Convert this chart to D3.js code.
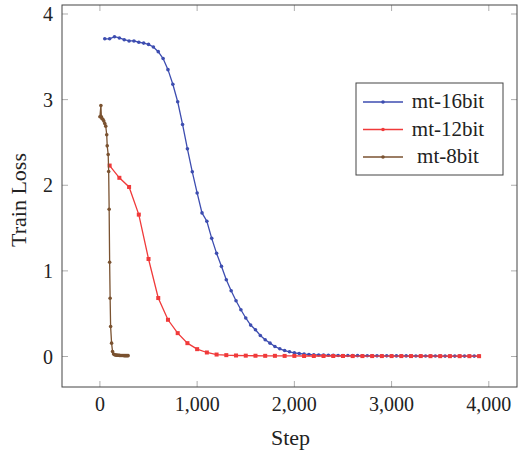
<!DOCTYPE html>
<html>
<head>
<meta charset="utf-8">
<script src="https://cdn.jsdelivr.net/npm/d3@7"></script>
<style>
  body { margin: 0; background: #fff; }
  text { font-family: "Liberation Serif", "Times New Roman", serif; fill: #222; }
</style>
</head>
<body>
<div id="chart"></div>
<script>
// data
const steps16 = [50, 100, 150, 200, 250, 300, 350, 400, 450, 500, 550, 600, 650, 700, 750, 800, 850, 900, 950, 1000,
  1050, 1100, 1150, 1200, 1250, 1300, 1350, 1400, 1450, 1500, 1550, 1600, 1650, 1700, 1750, 1800, 1850, 1900, 1950, 2000,
  2050, 2100, 2150, 2200, 2250, 2300, 2350, 2400, 2450, 2500, 2550, 2600, 2650, 2700, 2750, 2800, 2850, 2900, 2950, 3000,
  3050, 3100, 3150, 3200, 3250, 3300, 3350, 3400, 3450, 3500, 3550, 3600, 3650, 3700, 3750, 3800, 3850, 3900];
const loss16 = [3.71, 3.71, 3.735, 3.72, 3.70, 3.685, 3.685, 3.67, 3.66, 3.645, 3.615, 3.56, 3.48, 3.35, 3.18, 2.975, 2.71, 2.425, 2.157, 1.91,
  1.677, 1.58, 1.38, 1.205, 1.053, 0.897, 0.768, 0.651, 0.546, 0.45, 0.367, 0.312, 0.246, 0.195, 0.156, 0.117, 0.09, 0.07, 0.055, 0.043,
  0.035, 0.028, 0.024, 0.02, 0.018, 0.016, 0.014, 0.013, 0.012, 0.011, 0.011, 0.010, 0.010, 0.009, 0.009, 0.009, 0.008, 0.008, 0.008, 0.007,
  0.007, 0.007, 0.007, 0.006, 0.006, 0.006, 0.006, 0.006, 0.006, 0.005, 0.005, 0.005, 0.005, 0.005, 0.005, 0.005, 0.005, 0.005];

const steps12 = [100, 200, 300, 400, 500, 600, 700, 800, 900, 1000, 1100, 1200, 1300, 1400, 1500, 1600, 1700, 1800, 1900, 2000,
  2100, 2200, 2300, 2400, 2500, 2600, 2700, 2800, 2900, 3000, 3100, 3200, 3300, 3400, 3500, 3600, 3700, 3800, 3900];
const loss12 = [2.23, 2.087, 1.98, 1.657, 1.139, 0.683, 0.429, 0.273, 0.156, 0.086, 0.047, 0.023, 0.016, 0.012, 0.010, 0.009, 0.008, 0.008, 0.007, 0.007,
  0.006, 0.006, 0.006, 0.006, 0.006, 0.005, 0.005, 0.005, 0.005, 0.005, 0.005, 0.005, 0.005, 0.004, 0.004, 0.004, 0.004, 0.004, 0.004];

const steps8 = [0, 10, 15, 20, 30, 40, 50, 60, 70, 75, 85, 90, 95, 100, 105, 110, 120, 130, 140, 150,
  160, 170, 180, 190, 200, 210, 220, 230, 240, 250, 260, 270, 280, 290];
const loss8 = [2.80, 2.93, 2.80, 2.78, 2.77, 2.75, 2.72, 2.69, 2.59, 2.46, 2.36, 2.16, 1.72, 1.10, 0.68, 0.35, 0.156, 0.058, 0.03, 0.02,
  0.018, 0.016, 0.015, 0.014, 0.013, 0.012, 0.012, 0.011, 0.011, 0.010, 0.010, 0.010, 0.010, 0.010];

const seriesNames = ["mt-16bit", "mt-12bit", "mt-8bit"];
const seriesColors = ["#3d4db0", "#f03a3a", "#7a5230"];
const xTicks = [0, 1000, 2000, 3000, 4000];
const yTicks = [0, 1, 2, 3, 4];

function lossChart() {
    const W = 524, H = 455;
    const frame = { left: 62, right: 517, top: 5, bottom: 387 };

    const svg = d3.select("#chart")
        .append("svg")
        .attr("width", W)
        .attr("height", H);

    const x = d3.scaleLinear().domain([-390, 4290]).range([frame.left, frame.right]);
    const y = d3.scaleLinear().domain([-0.356, 4.105]).range([frame.bottom, frame.top]);

    const series = [
        { name: seriesNames[0], color: seriesColors[0], mark: "circle", pts: steps16.map((s, i) => [s, loss16[i]]) },
        { name: seriesNames[1], color: seriesColors[1], mark: "square", pts: steps12.map((s, i) => [s, loss12[i]]) },
        { name: seriesNames[2], color: seriesColors[2], mark: "circle", pts: steps8.map((s, i) => [s, loss8[i]]) }
    ];

    // ticks inside on all four sides
    const tickLen = 6;
    const ticks = svg.append("g").attr("stroke", "#999").attr("stroke-width", 0.8);
    xTicks.forEach(t => {
        ticks.append("line").attr("x1", x(t)).attr("x2", x(t)).attr("y1", frame.bottom).attr("y2", frame.bottom - tickLen);
        ticks.append("line").attr("x1", x(t)).attr("x2", x(t)).attr("y1", frame.top).attr("y2", frame.top + tickLen);
    });
    yTicks.forEach(t => {
        ticks.append("line").attr("x1", frame.left).attr("x2", frame.left + tickLen).attr("y1", y(t)).attr("y2", y(t));
        ticks.append("line").attr("x1", frame.right).attr("x2", frame.right - tickLen).attr("y1", y(t)).attr("y2", y(t));
    });

    // tick labels
    const fmt = d3.format(",");
    svg.append("g").selectAll("text")
        .data(xTicks)
        .join("text")
        .attr("x", d => x(d))
        .attr("y", 411)
        .attr("text-anchor", "middle")
        .style("font-size", "20px")
        .text(d => fmt(d));
    svg.append("g").selectAll("text")
        .data(yTicks)
        .join("text")
        .attr("x", 53)
        .attr("y", d => y(d) + 7)
        .attr("text-anchor", "end")
        .style("font-size", "20px")
        .text(d => d);

    // lines and markers
    const line = d3.line().x(d => x(d[0])).y(d => y(d[1]));
    series.forEach(s => {
        const g = svg.append("g");
        g.append("path")
            .datum(s.pts)
            .attr("fill", "none")
            .attr("stroke", s.color)
            .attr("stroke-width", 1.3)
            .attr("d", line);
        if (s.mark === "square") {
            g.selectAll("rect").data(s.pts).join("rect")
                .attr("x", d => x(d[0]) - 2).attr("y", d => y(d[1]) - 2)
                .attr("width", 4).attr("height", 4)
                .attr("fill", s.color);
        } else {
            g.selectAll("circle").data(s.pts).join("circle")
                .attr("cx", d => x(d[0])).attr("cy", d => y(d[1]))
                .attr("r", 1.8)
                .attr("fill", s.color);
        }
    });

    // frame
    svg.append("rect")
        .attr("x", frame.left).attr("y", frame.top)
        .attr("width", frame.right - frame.left).attr("height", frame.bottom - frame.top)
        .attr("fill", "none").attr("stroke", "#444").attr("stroke-width", 1);

    // axis labels
    svg.append("text")
        .attr("x", (frame.left + frame.right) / 2 + 1)
        .attr("y", 445)
        .attr("text-anchor", "middle")
        .style("font-size", "22px")
        .text("Step");
    svg.append("text")
        .attr("transform", `translate(26, 200) rotate(-90)`)
        .attr("text-anchor", "middle")
        .style("font-size", "22px")
        .text("Train Loss");

    // legend
    const legend = svg.append("g");
    legend.append("rect")
        .attr("x", 356).attr("y", 83).attr("width", 147).attr("height", 92)
        .attr("fill", "#fff").attr("stroke", "#444").attr("stroke-width", 1);
    const items = legend.selectAll(".item")
        .data(series)
        .join("g")
        .attr("class", "item")
        .attr("transform", (d, i) => `translate(0, ${102 + i * 27.5})`);
    items.append("line")
        .attr("x1", 363).attr("x2", 403)
        .attr("stroke", d => d.color).attr("stroke-width", 1.3);
    items.append("circle")
        .attr("cx", 383).attr("r", 1.8)
        .attr("fill", d => d.color);
    items.append("text")
        .attr("x", 448)
        .attr("y", 6)
        .attr("text-anchor", "middle")
        .style("font-size", "21px")
        .text(d => d.name);
}

lossChart();
</script>
</body>
</html>
